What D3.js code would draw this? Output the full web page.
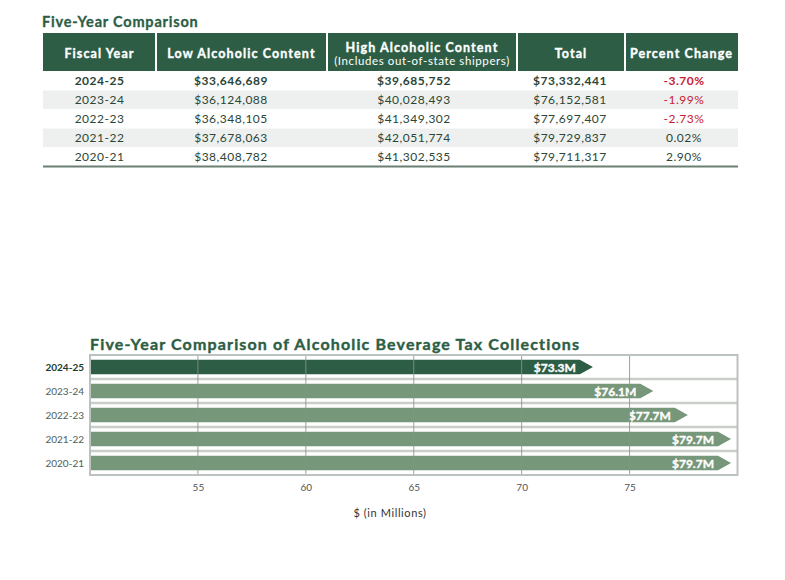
<!DOCTYPE html>
<html>
<head>
<meta charset="utf-8">
<script src="https://cdn.jsdelivr.net/npm/d3@7/dist/d3.min.js"></script>
<style>
  html, body { margin: 0; padding: 0; background: #fff; }
  svg { display: block; font-family: Lato, "Open Sans", sans-serif; }
</style>
</head>
<body>
<svg id="chart" width="785" height="580"></svg>
<script>
// ---- Data ----
const fiscalYears   = ["2024-25", "2023-24", "2022-23", "2021-22", "2020-21"];
const lowAlcohol    = [33646689, 36124088, 36348105, 37678063, 38408782];
const highAlcohol   = [39685752, 40028493, 41349302, 42051774, 41302535];
const totals        = [73332441, 76152581, 77697407, 79729837, 79711317];
const percentChange = [-3.70, -1.99, -2.73, 0.02, 2.90];
const chartMillions = [73.3, 76.1, 77.7, 79.7, 79.7];   // as printed on the bars
const headerLabels  = ["Fiscal Year", "Low Alcoholic Content", "High Alcoholic Content", "Total", "Percent Change"];
const headerSub     = "(Includes out-of-state shippers)";
const xTicks        = [55, 60, 65, 70, 75];
const xDomain       = [50, 80];

// ---- Styles ----
const DARK = "#2d5e45";
const LIGHT = "#76977a";
const TEXT = "#2b4637";
const RED = "#c8202f";

const svg = d3.select("#chart");
const money = d3.format("$,");

// ================= TABLE =================
const colEdges = [43, 156, 327, 517, 625, 738];
const headerCenters = [99.5, 241.5, 422, 571, 681.5];
const valueCenters = [99.5, 231, 414, 570, 684];
const headerTop = 33, headerBottom = 71, rowH = 19;

svg.append("text")
  .attr("x", 42).attr("y", 27)
  .attr("fill", DARK).attr("stroke", DARK).attr("stroke-width", 0.3)
  .style("font-size", "14.5px").style("font-weight", 700)
  .style("letter-spacing", "0.8px")
  .text("Five-Year Comparison");

// header cells
const hdr = svg.append("g");
hdr.selectAll("rect").data(d3.range(5)).join("rect")
  .attr("x", i => colEdges[i] + (i === 0 ? 0 : 1))
  .attr("y", headerTop)
  .attr("width", i => colEdges[i + 1] - colEdges[i] - (i === 0 ? 1 : 2) + (i === 4 ? 1 : 0))
  .attr("height", headerBottom - headerTop)
  .attr("fill", DARK);

hdr.selectAll("text.h").data(headerLabels).join("text")
  .attr("class", "h")
  .attr("x", (d, i) => headerCenters[i])
  .attr("y", (d, i) => i === 2 ? 51.5 : 57.5)
  .attr("text-anchor", "middle")
  .attr("fill", "#fff").attr("stroke", "#fff").attr("stroke-width", 0.35)
  .style("font-size", "12.5px").style("font-weight", 700)
  .style("letter-spacing", "1.1px")
  .text(d => d);

hdr.append("text")
  .attr("x", headerCenters[2]).attr("y", 64.5)
  .attr("text-anchor", "middle").attr("fill", "#fff")
  .style("font-size", "11.5px").style("letter-spacing", "0.6px")
  .text(headerSub);

// rows
const rows = fiscalYears.map((fy, i) => ({
  i,
  cells: [fy, money(lowAlcohol[i]), money(highAlcohol[i]), money(totals[i]),
          percentChange[i].toFixed(2) + "%"],
  pct: percentChange[i]
}));

const rowG = svg.append("g").selectAll("g").data(rows).join("g")
  .attr("transform", d => `translate(0,${headerBottom + d.i * rowH})`);

rowG.filter(d => d.i % 2 === 1).append("rect")
  .attr("x", colEdges[0]).attr("y", 0.5)
  .attr("width", colEdges[5] - colEdges[0]).attr("height", rowH - 0.5)
  .attr("fill", "#eef0ef");

rowG.selectAll("text").data(d => d.cells.map((c, j) => ({ c, j, row: d }))).join("text")
  .attr("x", d => valueCenters[d.j])
  .attr("y", 14)
  .attr("text-anchor", "middle")
  .attr("fill", d => (d.j === 4 && d.row.pct < 0) ? RED : TEXT)
  .style("font-size", "12px")
  .style("font-weight", d => d.row.i === 0 ? 700 : 400)
  .style("letter-spacing", "0.5px")
  .text(d => d.c);

svg.append("line")
  .attr("x1", colEdges[0]).attr("x2", colEdges[5])
  .attr("y1", headerBottom + 5 * rowH + 0.5).attr("y2", headerBottom + 5 * rowH + 0.5)
  .attr("stroke", "#6b7f72").attr("stroke-width", 2);

// ================= BAR CHART =================
const plot = { left: 90, right: 737.5, top: 355, bottom: 475 };

const x = d3.scaleLinear().domain(xDomain).range([plot.left, plot.right]);
const y = d3.scaleBand().domain(fiscalYears).range([plot.top, plot.bottom])
  .paddingInner(0.4).paddingOuter(0.2);

svg.append("text")
  .attr("x", 90).attr("y", 349.5)
  .attr("fill", DARK).attr("stroke", DARK).attr("stroke-width", 0.4)
  .style("font-size", "16px").style("font-weight", 700)
  .style("letter-spacing", "1.15px")
  .text("Five-Year Comparison of Alcoholic Beverage Tax Collections");

// band separators
const sepYs = fiscalYears.slice(1).map(fy => y(fy) - y.step() * y.paddingInner() / 2);
svg.append("g").selectAll("line").data(sepYs).join("line")
  .attr("x1", plot.left).attr("x2", plot.right)
  .attr("y1", d => d).attr("y2", d => d)
  .attr("stroke", "#c9cec9").attr("stroke-width", 2.5);

// bars (arrow shaped)
const head = 13;
const barG = svg.append("g");
barG.selectAll("path").data(fiscalYears).join("path")
  .attr("d", (fy, i) => {
    const x0 = x(xDomain[0]);
    const tip = x(chartMillions[i]);
    const y0 = y(fy), h = y.bandwidth();
    return `M${x0},${y0}H${tip - head}L${tip},${y0 + h / 2}L${tip - head},${y0 + h}H${x0}Z`;
  })
  .attr("fill", (fy, i) => i === 0 ? DARK : LIGHT);

// vertical gridlines (drawn over bars)
svg.append("g").selectAll("line").data(xTicks).join("line")
  .attr("x1", d => x(d)).attr("x2", d => x(d))
  .attr("y1", plot.top).attr("y2", plot.bottom)
  .attr("stroke", "#8a948d").attr("stroke-width", 1).attr("opacity", 0.85);

// bar labels
barG.selectAll("text").data(fiscalYears).join("text")
  .attr("x", (fy, i) => x(chartMillions[i]) - head - 4)
  .attr("y", fy => y(fy) + y.bandwidth() / 2 + 4.5)
  .attr("text-anchor", "end")
  .attr("fill", "#fff").attr("stroke", "#fff").attr("stroke-width", 0.35)
  .style("font-size", "12px").style("font-weight", 700)
  .text((fy, i) => "$" + chartMillions[i].toFixed(1) + "M");

// plot border
svg.append("rect")
  .attr("x", plot.left).attr("y", plot.top)
  .attr("width", plot.right - plot.left).attr("height", plot.bottom - plot.top)
  .attr("fill", "none").attr("stroke", "#bcc2bd").attr("stroke-width", 2);

// y axis labels
const yAxis = svg.append("g")
  .attr("transform", `translate(${plot.left - 6},0)`)
  .call(d3.axisLeft(y).tickSize(0).tickPadding(0));
yAxis.select(".domain").remove();
yAxis.selectAll("text")
  .attr("fill", (d, i) => i === 0 ? "#203a2d" : "#4f5d54")
  .style("font-family", "Lato, sans-serif")
  .style("font-size", "10px")
  .style("font-weight", (d, i) => i === 0 ? 700 : 400)
  .attr("dy", "0.35em");

// x axis labels
const xAxis = svg.append("g")
  .attr("transform", `translate(0,${plot.bottom})`)
  .call(d3.axisBottom(x).tickValues(xTicks).tickSize(0).tickPadding(9));
xAxis.select(".domain").remove();
xAxis.selectAll("text")
  .attr("fill", "#555")
  .style("font-family", "Lato, sans-serif")
  .style("font-size", "10px");

svg.append("text")
  .attr("x", 390).attr("y", 517)
  .attr("text-anchor", "middle")
  .attr("fill", "#333")
  .style("font-size", "11px").style("letter-spacing", "0.6px")
  .text("$ (in Millions)");
</script>
</body>
</html>
